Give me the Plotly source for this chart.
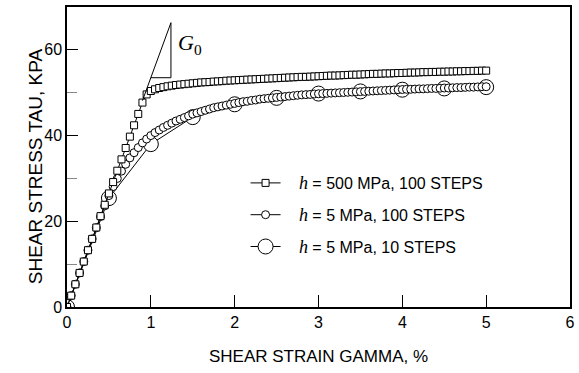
import plotly.graph_objects as go

# ---- data ----
strain_100 = [0.00, 0.05, 0.10, 0.15, 0.20, 0.25, 0.30, 0.35, 0.40, 0.45,
              0.50, 0.55, 0.60, 0.65, 0.70, 0.75, 0.80, 0.85, 0.90, 0.95,
              1.00, 1.05, 1.10, 1.15, 1.20, 1.25, 1.30, 1.35, 1.40, 1.45,
              1.50, 1.55, 1.60, 1.65, 1.70, 1.75, 1.80, 1.85, 1.90, 1.95,
              2.00, 2.05, 2.10, 2.15, 2.20, 2.25, 2.30, 2.35, 2.40, 2.45,
              2.50, 2.55, 2.60, 2.65, 2.70, 2.75, 2.80, 2.85, 2.90, 2.95,
              3.00, 3.05, 3.10, 3.15, 3.20, 3.25, 3.30, 3.35, 3.40, 3.45,
              3.50, 3.55, 3.60, 3.65, 3.70, 3.75, 3.80, 3.85, 3.90, 3.95,
              4.00, 4.05, 4.10, 4.15, 4.20, 4.25, 4.30, 4.35, 4.40, 4.45,
              4.50, 4.55, 4.60, 4.65, 4.70, 4.75, 4.80, 4.85, 4.90, 4.95,
              5.00]

tau_h500 = [0, 2.65, 5.3, 7.95, 10.6, 13.25, 15.9, 18.55, 21.2, 23.85,
            26.5, 29.15, 31.8, 34.45, 37.1, 39.75, 42.4, 45.05, 47.7, 49.6,
            50.4, 50.8, 51.1, 51.3, 51.5, 51.65, 51.8, 51.9, 52.0, 52.1,
            52.2, 52.3, 52.4, 52.45, 52.5, 52.6, 52.65, 52.7, 52.8, 52.85,
            52.9, 52.95, 53.0, 53.05, 53.1, 53.15, 53.2, 53.25, 53.3, 53.35,
            53.4, 53.45, 53.5, 53.55, 53.6, 53.65, 53.7, 53.7, 53.75, 53.8,
            53.85, 53.9, 53.95, 54.0, 54.0, 54.05, 54.1, 54.15, 54.2, 54.2,
            54.25, 54.3, 54.35, 54.4, 54.4, 54.45, 54.5, 54.5, 54.55, 54.6,
            54.6, 54.65, 54.7, 54.7, 54.75, 54.8, 54.8, 54.85, 54.85, 54.9,
            54.9, 54.95, 54.95, 55.0, 55.0, 55.05, 55.05, 55.1, 55.1, 55.15,
            55.15]

tau_h5_100 = [0, 2.65, 5.3, 7.95, 10.6, 13.25, 15.9, 18.5, 21.1, 23.6,
              26.0, 28.1, 30.0, 31.7, 33.3, 34.8, 36.0, 37.2, 38.3, 39.2,
              40.0, 40.7, 41.3, 41.9, 42.4, 42.9, 43.4, 43.8, 44.2, 44.6,
              45.0, 45.3, 45.6, 45.9, 46.2, 46.5, 46.7, 46.9, 47.1, 47.3,
              47.5, 47.7, 47.9, 48.0, 48.2, 48.3, 48.5, 48.6, 48.7, 48.8,
              48.9, 49.0, 49.1, 49.2, 49.3, 49.4, 49.5, 49.55, 49.6, 49.7,
              49.75, 49.8, 49.85, 49.9, 49.95, 50.0, 50.05, 50.1, 50.15, 50.2,
              50.25, 50.3, 50.35, 50.4, 50.45, 50.5, 50.55, 50.6, 50.65, 50.7,
              50.75, 50.8, 50.8, 50.85, 50.9, 50.9, 50.95, 51.0, 51.0, 51.05,
              51.1, 51.1, 51.15, 51.2, 51.2, 51.25, 51.3, 51.3, 51.35, 51.4,
              51.4]

strain_10 = [0.0, 0.5, 1.0, 1.5, 2.0, 2.5, 3.0, 3.5, 4.0, 4.5, 5.0]
tau_h5_10 = [0.0, 25.4, 38.0, 44.3, 47.3, 48.8, 49.8, 50.3, 50.7, 51.0, 51.3]

H = "<span style='font-family:Liberation Serif;font-size:18px'><i>h</i></span>"
names = ["&nbsp;&nbsp;&nbsp;" + H + " = 500 MPa, 100 STEPS",
         "&nbsp;&nbsp;&nbsp;" + H + " = 5 MPa, 100 STEPS",
         "&nbsp;&nbsp;&nbsp;" + H + " = 5 MPa, 10 STEPS"]

x_ticks = [0, 1, 2, 3, 4, 5, 6]
y_ticks = [0, 20, 40, 60]
x_title = "SHEAR STRAIN GAMMA, %"
y_title = "SHEAR STRESS TAU, KPA"

# G0 slope triangle (strain %, stress kPa)
G0 = 53.5
g0_x_start, g0_x_corner, g0_x_end = 0.9, 1.0, 1.24

FONT = "Liberation Sans, Arial, sans-serif"

fig = go.Figure()

fig.add_trace(go.Scatter(
    x=strain_10, y=tau_h5_10, mode="lines+markers", name=names[2],
    line=dict(color="black", width=1),
    marker=dict(symbol="circle", size=15, color="white",
                line=dict(color="black", width=1)),
    legendrank=3, legendgroup="c"))

fig.add_trace(go.Scatter(
    x=strain_100, y=tau_h5_100, mode="lines+markers", name=names[1],
    line=dict(color="black", width=1),
    marker=dict(symbol="circle", size=8, color="white",
                line=dict(color="black", width=1)),
    legendrank=2, legendgroup="b"))

fig.add_trace(go.Scatter(
    x=strain_100, y=tau_h500, mode="lines+markers", name=names[0],
    line=dict(color="black", width=1),
    marker=dict(symbol="square", size=7, color="white",
                line=dict(color="black", width=1)),
    legendrank=1, legendgroup="a"))

# G0 triangle
fig.add_shape(type="line", x0=g0_x_start, y0=G0 * g0_x_start,
              x1=g0_x_end, y1=G0 * g0_x_end, line=dict(color="black", width=1))
fig.add_shape(type="line", x0=g0_x_end, y0=G0 * g0_x_end,
              x1=g0_x_end, y1=G0 * g0_x_corner, line=dict(color="black", width=1))
fig.add_shape(type="line", x0=g0_x_end, y0=G0 * g0_x_corner,
              x1=g0_x_corner, y1=G0 * g0_x_corner, line=dict(color="black", width=1))
fig.add_annotation(x=g0_x_end + 0.06, y=G0 * (g0_x_corner + g0_x_end) / 2 + 1.5,
                   text="<i>G</i><sub>0</sub>", showarrow=False, xanchor="left",
                   font=dict(family="Liberation Serif, serif", size=22, color="black"))

# y-axis title as annotation for exact placement
fig.add_annotation(xref="paper", yref="paper", x=-0.088, y=0.47,
                   text=y_title, textangle=-90, showarrow=False,
                   font=dict(family=FONT, size=19, color="black"))

fig.update_layout(
    width=579, height=373,
    margin=dict(l=67, r=4, t=7, b=66),
    paper_bgcolor="white", plot_bgcolor="white",
    font=dict(family=FONT, size=15, color="black"),
    showlegend=True,
    legend=dict(x=0.355, y=0.47, xanchor="left", yanchor="top",
                traceorder="grouped", tracegroupgap=8,
                font=dict(family=FONT, size=16, color="black"),
                bgcolor="rgba(0,0,0,0)", itemwidth=30),
    xaxis=dict(range=[0, 6], tickvals=x_ticks, ticks="inside", ticklen=12,
               tickcolor="black", showgrid=False, zeroline=False,
               showline=True, linecolor="black", linewidth=1.5, mirror=True,
               tickfont=dict(size=16),
               title=dict(text=x_title, font=dict(size=17), standoff=20)),
    yaxis=dict(range=[0, 70], tickvals=y_ticks, ticks="inside", ticklen=11,
               tickcolor="black", showgrid=False, zeroline=False,
               showline=True, linecolor="black", linewidth=1.5, mirror=True,
               tickfont=dict(size=16),
               minor=dict(ticks="inside", ticklen=10, tickvals=[10, 30, 50],
                          tickcolor="#888888")),
)

fig.write_html("out.html")
